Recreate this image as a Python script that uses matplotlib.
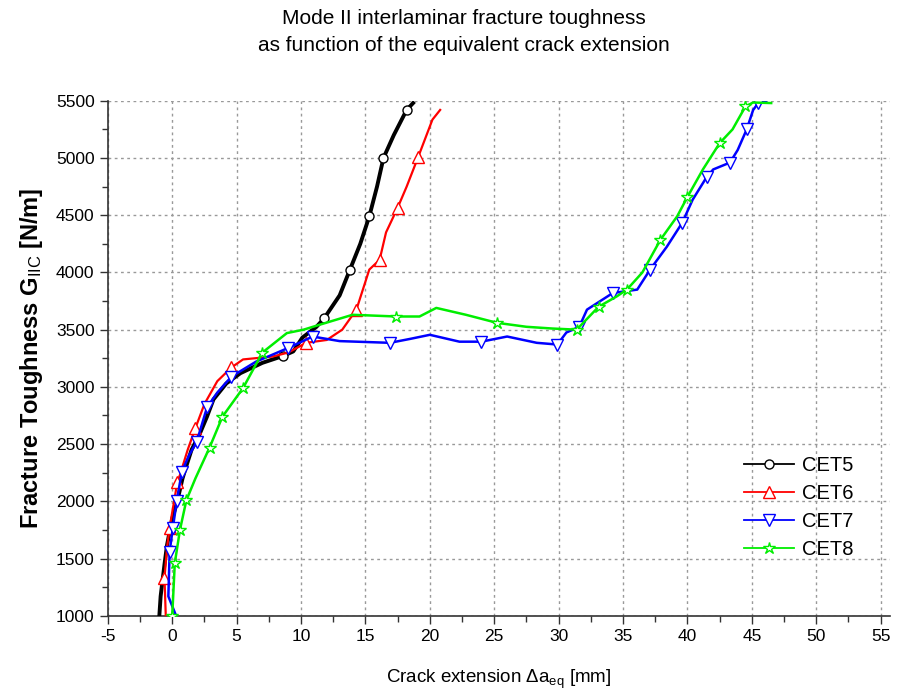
import matplotlib
matplotlib.use("Agg")
import matplotlib.pyplot as plt
from matplotlib.ticker import MultipleLocator

# CET5 (black, circles)
cet5_x = [-1.0, -0.9, -0.6, -0.4, 0.0, 0.35, 0.8, 1.1, 1.5, 2.1, 2.7, 3.2, 4.2, 5.3, 7.0, 8.6, 9.4,
          10.1, 11.2, 11.8, 13.0, 13.8, 14.6, 15.3, 15.9, 16.4, 17.2, 18.2, 18.7]
cet5_y = [1000, 1170, 1450, 1620, 1850, 1980, 2200, 2310, 2450, 2580, 2740, 2890, 3030, 3120, 3210, 3270, 3310,
          3430, 3525, 3600, 3800, 4025, 4250, 4490, 4750, 5000, 5200, 5420, 5480]
cet5_marks = [15, 19, 21, 23, 25, 27]

# CET6 (red, triangles up)
cet6_x = [-0.5, -0.6, -0.4, -0.2, 0.4, 0.6, 1.2, 1.8, 2.5, 3.5, 4.6, 5.5, 7.8, 9.0, 10.4, 12.0, 13.2,
          14.3, 15.3, 16.1, 16.6, 17.5, 18.2, 19.1, 20.2, 20.8]
cet6_y = [1000, 1330, 1600, 1770, 2170, 2230, 2450, 2640, 2850, 3050, 3170, 3240, 3265, 3300, 3385, 3410, 3500,
          3675, 4025, 4110, 4350, 4565, 4750, 5010, 5335, 5420]
cet6_marks = [1, 3, 4, 7, 10, 14, 17, 19, 21, 23]

# CET7 (blue, triangles down)
cet7_x = [0.3, -0.3, -0.2, 0.05, 0.35, 0.75, 1.3, 1.9, 2.7, 3.5, 4.6, 6.5, 9.0, 10.9, 13.0, 16.9, 18.5,
          20.0, 22.3, 24.0, 26.0, 28.3, 29.9, 30.6, 31.6, 32.2, 34.2, 36.1, 37.1, 38.4, 39.6, 40.4, 41.5,
          42.0, 43.3, 43.9, 44.6, 45.1, 45.5, 46.1]
cet7_y = [1000, 1170, 1560, 1770, 2000, 2260, 2400, 2520, 2820, 2950, 3090, 3220, 3340, 3440, 3400, 3385, 3420,
          3455, 3395, 3395, 3440, 3385, 3370, 3475, 3525, 3675, 3820, 3850, 4025, 4225, 4435, 4635, 4835,
          4900, 4960, 5070, 5250, 5420, 5480, 5500]
cet7_marks = [2, 3, 4, 5, 7, 8, 10, 12, 13, 15, 19, 22, 24, 26, 28, 30, 32, 34, 36, 38]

# CET8 (green, stars)
cet8_x = [0.0, 0.2, 0.6, 1.1, 1.8, 2.9, 3.9, 5.5, 7.0, 8.9, 10.2, 11.5, 14.0, 17.4, 19.2, 20.5, 22.8,
          25.2, 27.5, 29.5, 31.4, 33.1, 34.5, 35.3, 36.5, 37.9, 39.2, 40.0, 41.2, 42.5, 43.5, 44.5, 45.1, 46.5]
cet8_y = [1000, 1460, 1750, 2010, 2200, 2470, 2740, 2990, 3300, 3470, 3500, 3545, 3630, 3615, 3615, 3690, 3630,
          3560, 3525, 3510, 3500, 3700, 3790, 3850, 4000, 4285, 4490, 4660, 4900, 5130, 5250, 5450, 5485, 5480]
cet8_marks = [0, 1, 2, 3, 5, 6, 7, 8, 13, 17, 20, 21, 23, 25, 27, 29, 31]

x_ticks = list(range(-5, 60, 5))
y_ticks = list(range(1000, 6000, 500))

plt.rcParams['font.family'] = ['Liberation Sans', 'DejaVu Sans']
plt.rcParams['axes.unicode_minus'] = False
plt.rcParams['mathtext.fontset'] = 'custom'
plt.rcParams['mathtext.rm'] = 'Liberation Sans'
plt.rcParams['mathtext.it'] = 'Liberation Sans:italic'
plt.rcParams['mathtext.bf'] = 'Liberation Sans:bold'

fig = plt.figure(figsize=(9.06, 6.95), dpi=100)
ax = fig.add_axes([0.119, 0.114, 0.863, 0.741])

ax.plot(cet5_x, cet5_y, color='black', lw=2.8, marker='o', ms=6.5, mfc='white', mew=1.0,
        markevery=cet5_marks, label='CET5', zorder=3)
ax.plot(cet6_x, cet6_y, color='#ff0000', lw=1.6, marker='^', ms=9, mfc='white', mew=1.0,
        markevery=cet6_marks, label='CET6', zorder=3)
ax.plot(cet7_x, cet7_y, color='#0000ff', lw=1.8, marker='v', ms=9, mfc='white', mew=1.0,
        markevery=cet7_marks, label='CET7', zorder=4)
ax.plot(cet8_x, cet8_y, color='#00ee00', lw=1.8, marker='*', ms=9, mfc='white', mew=1.0,
        markevery=cet8_marks, label='CET8', zorder=4)

ax.set_xlim(-5, 55.7)
ax.set_ylim(1000, 5500)
ax.set_xticks(x_ticks)
ax.set_yticks(y_ticks)
ax.xaxis.set_minor_locator(MultipleLocator(2.5))
ax.yaxis.set_minor_locator(MultipleLocator(250))

for s in ['top', 'right']:
	ax.spines[s].set_visible(False)
for s in ['left', 'bottom']:
	ax.spines[s].set_linewidth(1.2)
	ax.spines[s].set_color('#333333')

ax.tick_params(which='major', direction='out', length=6, width=1.0, colors='#333333',
               labelcolor='black', labelsize=12.5)
ax.tick_params(which='minor', direction='out', length=4, width=1.0, colors='#333333')

ax.grid(True, which='major', color='#999999', linestyle=(0, (2, 2.5)), linewidth=1.0)
ax.set_axisbelow(True)

ax.set_xlabel(r'Crack extension $\Delta$a$_{\rm eq}$ [mm]', fontsize=13.5, labelpad=17)
ax.set_ylabel(r'Fracture Toughness G$_{\rm IIC}$ [N/m]', fontsize=17, fontweight='bold', labelpad=8)

fig.text(0.512, 0.987, 'Mode II interlaminar fracture toughness', ha='center', va='top', fontsize=15)
fig.text(0.512, 0.948, 'as function of the equivalent crack extension', ha='center', va='top', fontsize=15)

leg = ax.legend(loc='upper left', bbox_to_anchor=(0.79, 0.345), frameon=False, fontsize=14.5,
                handlelength=2.5, labelspacing=0.45, handletextpad=0.4)
for ln in leg.get_lines():
	ln.set_linewidth(1.3)

fig.savefig('out.png', dpi=100)
